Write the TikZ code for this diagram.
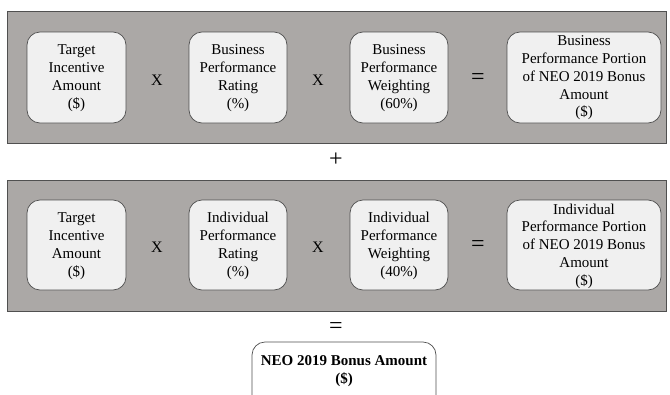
\documentclass[tikz,border=0pt]{standalone}
\usepackage{fontspec}
\setmainfont{Liberation Serif}
\definecolor{panelgray}{RGB}{171,168,166}
\definecolor{boxfill}{RGB}{240,240,240}
\definecolor{edgegray}{RGB}{80,80,80}
\begin{document}
\begin{tikzpicture}[x=1pt,y=-1pt,
  panel/.style={draw=edgegray,fill=panelgray,line width=0.8pt},
  termbox/.style={draw=edgegray,fill=boxfill,rounded corners=13pt,line width=0.7pt},
  lbl/.style={align=center,font=\fontsize{15}{17.8}\selectfont,text=black,inner sep=0pt},
  op/.style={font=\fontsize{16}{18}\selectfont,inner sep=0pt},
  bigop/.style={font=\fontsize{24}{24}\selectfont,inner sep=0pt}]
\useasboundingbox (0,0) rectangle (670,394);
\clip (0,0) rectangle (670,394);
% panels
\path[panel] (7,11) rectangle (666,143);
\path[panel] (7,180) rectangle (666,311);
% row 1 boxes
\path[termbox] (27,32) rectangle (126,123);
\path[termbox] (189,32) rectangle (287,123);
\path[termbox] (350,32) rectangle (448,123);
\path[termbox] (507,32) rectangle (661,123);
\node[lbl] (a1) at (76.5,78) {Target\\Incentive\\Amount\\(\$)};
\node[lbl] (b1) at (238,78) {Business\\Performance\\Rating\\(\%)};
\node[lbl] (c1) at (399,78) {Business\\Performance\\Weighting\\(60\%)};
\node[lbl] (d1) at (584,78) {Business\\Performance Portion\\of NEO 2019 Bonus\\Amount\\(\$)};
\node[op] (x11) at (157,80) {X};
\node[op] (x12) at (318,80) {X};
\node[bigop] (e1) at (478,79) {=};
% plus
\node[bigop] (plus) at (336,160) {+};
% row 2 boxes
\path[termbox] (27,200) rectangle (126,290);
\path[termbox] (189,200) rectangle (287,290);
\path[termbox] (350,200) rectangle (448,290);
\path[termbox] (507,200) rectangle (661,290);
\node[lbl] (a2) at (76.5,246) {Target\\Incentive\\Amount\\(\$)};
\node[lbl] (b2) at (238,246) {Individual\\Performance\\Rating\\(\%)};
\node[lbl] (c2) at (399,246) {Individual\\Performance\\Weighting\\(40\%)};
\node[lbl] (d2) at (584,246) {Individual\\Performance Portion\\of NEO 2019 Bonus\\Amount\\(\$)};
\node[op] (x21) at (157,247) {X};
\node[op] (x22) at (318,247) {X};
\node[bigop] (e2) at (478,246) {=};
% equals
\node[bigop] (eq) at (336,328) {=};
% result
\path[draw=edgegray,fill=white,rounded corners=13pt,line width=0.7pt] (252,342) rectangle (436,420);
\node[lbl,font=\bfseries\fontsize{15}{18}\selectfont] (res) at (344,371) {NEO 2019 Bonus Amount\\(\$)};
\end{tikzpicture}
\end{document}
